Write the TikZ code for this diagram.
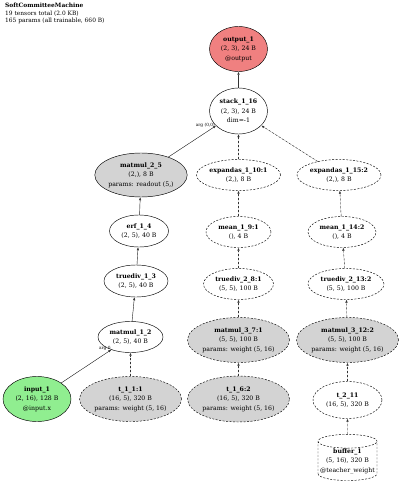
\documentclass[tikz,border=0pt]{standalone}
\usepackage{fontspec}
\setmainfont{DejaVu Serif}
\usetikzlibrary{shapes.geometric,arrows.meta}
\definecolor{edgec}{RGB}{50,50,50}
\begin{document}
\begin{tikzpicture}[x=1pt,y=-1pt,
  every node/.style={font=\fontsize{6.2}{9.6}\selectfont, align=center, inner sep=0pt},
  op/.style={ellipse, draw, line width=0.45pt},
  dop/.style={op, dash pattern=on 2pt off 1.5pt},
  gray/.style={fill={rgb,255:red,211;green,211;blue,211}},
  ar/.style={-{Latex[length=3pt,width=2.4pt]}, line width=0.4pt, draw=edgec, fill=edgec},
  dar/.style={ar, dash pattern=on 2pt off 2pt},
  argl/.style={font=\fontsize{4.3}{5}\selectfont}]
\useasboundingbox (0,0) rectangle (400,486);
% title
\node[anchor=north west, align=left, font=\fontsize{5.9}{7.4}\selectfont] (title) at (5,3)
  {\textbf{SoftCommitteeMachine}\\19 tensors total (2.0 KB)\\165 params (all trainable, 660 B)};
% nodes
\node[op, fill={rgb,255:red,240;green,128;blue,128}, minimum width=58, minimum height=45] (out) at (238.5,49) {\textbf{output\_1}\\(2, 3), 24 B\\@output};
\node[op, minimum width=58, minimum height=46] (stack) at (238.5,111) {\textbf{stack\_1\_16}\\(2, 3), 24 B\\dim=-1};
\node[op, gray, minimum width=92, minimum height=44] (mm25) at (141,175) {\textbf{matmul\_2\_5}\\(2,), 8 B\\params: readout (5,)};
\node[op, minimum width=59, minimum height=32] (erf) at (139,231) {\textbf{erf\_1\_4}\\(2, 5), 40 B};
\node[op, minimum width=64, minimum height=32] (td13) at (136,281) {\textbf{truediv\_1\_3}\\(2, 5), 40 B};
\node[op, minimum width=65, minimum height=31] (mm12) at (130.5,337) {\textbf{matmul\_1\_2}\\(2, 5), 40 B};
\node[op, fill={rgb,255:red,144;green,238;blue,144}, minimum width=68, minimum height=45] (in) at (37,399) {\textbf{input\_1}\\(2, 16), 128 B\\@input.x};
\node[dop, gray, minimum width=101, minimum height=45] (t11) at (130.5,399) {\textbf{t\_1\_1:1}\\(16, 5), 320 B\\params: weight (5, 16)};
% middle column
\node[dop, minimum width=84, minimum height=31] (ex10) at (238.5,175) {\textbf{expandas\_1\_10:1}\\(2,), 8 B};
\node[dop, minimum width=65, minimum height=31] (mn9) at (238.5,232) {\textbf{mean\_1\_9:1}\\(), 4 B};
\node[dop, minimum width=70, minimum height=31] (td8) at (238.5,284) {\textbf{truediv\_2\_8:1}\\(5, 5), 100 B};
\node[dop, gray, minimum width=101, minimum height=45] (mm37) at (238.5,340) {\textbf{matmul\_3\_7:1}\\(5, 5), 100 B\\params: weight (5, 16)};
\node[dop, gray, minimum width=101, minimum height=46] (t16) at (238.5,399) {\textbf{t\_1\_6:2}\\(16, 5), 320 B\\params: weight (5, 16)};
% right column
\node[dop, minimum width=84, minimum height=31] (ex15) at (339,175) {\textbf{expandas\_1\_15:2}\\(2,), 8 B};
\node[dop, minimum width=68, minimum height=31] (mn14) at (342,232) {\textbf{mean\_1\_14:2}\\(), 4 B};
\node[dop, minimum width=76, minimum height=31] (td13b) at (346,284) {\textbf{truediv\_2\_13:2}\\(5, 5), 100 B};
\node[dop, gray, minimum width=101, minimum height=45] (mm312) at (347.5,340) {\textbf{matmul\_3\_12:2}\\(5, 5), 100 B\\params: weight (5, 16)};
\node[dop, minimum width=69, minimum height=37] (t211) at (347.5,400) {\textbf{t\_2\_11}\\(16, 5), 320 B};
\node[cylinder, shape border rotate=90, aspect=0.25, draw, line width=0.45pt, dash pattern=on 2pt off 1.5pt, minimum width=59, minimum height=45] (buf) at (347.5,461) {\textbf{buffer\_1}\\(5, 16), 320 B\\@teacher\_weight};
% edges
\draw[ar] (stack) -- (out);
\draw[ar] (mm25) -- (stack) node[pos=1, argl, anchor=east, xshift=-1pt, yshift=0.5pt] (l1) {arg (0,0)};
\draw[dar] (ex10) -- (stack);
\draw[dar] (ex15) -- (stack);
\draw[ar] (erf) -- (mm25);
\draw[ar] (td13) -- (erf);
\draw[ar] (mm12) -- (td13);
\draw[ar] (in) -- (mm12) node[pos=1, argl, anchor=east, xshift=-0.5pt, yshift=1pt] (l2) {arg 0};
\draw[dar] (t11) -- (mm12);
\draw[dar] (mn9) -- (ex10);
\draw[dar] (td8) -- (mn9);
\draw[dar] (mm37) -- (td8);
\draw[dar] (t16) -- (mm37);
\draw[dar] (mn14) -- (ex15);
\draw[dar] (td13b) -- (mn14);
\draw[dar] (mm312) -- (td13b);
\draw[dar] (t211) -- (mm312);
\draw[dar] (buf) -- (t211);
\end{tikzpicture}
\end{document}
